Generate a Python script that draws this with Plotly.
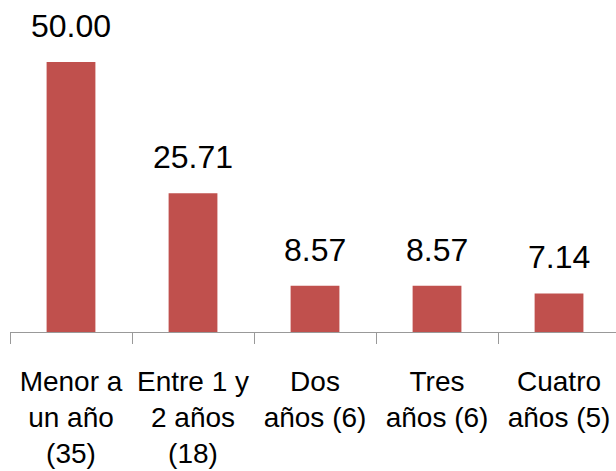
import plotly.graph_objects as go

categories = [
    "Menor a<br>un año<br>(35)",
    "Entre 1 y<br>2 años<br>(18)",
    "Dos<br>años (6)",
    "Tres<br>años (6)",
    "Cuatro<br>años (5)",
]
values = [50.00, 25.71, 8.57, 8.57, 7.14]
value_labels = ["50.00", "25.71", "8.57", "8.57", "7.14"]

BAR_COLOR = "#C0504D"
FONT = "Liberation Sans, Arial, sans-serif"

fig = go.Figure(
    go.Bar(
        x=categories,
        y=values,
        width=0.4,
        marker=dict(color=BAR_COLOR, line=dict(width=0)),
        hoverinfo="skip",
    )
)

# value labels sit well above the bars, like the original
for cat, val, lab in zip(categories, values, value_labels):
    fig.add_annotation(
        x=cat, y=val, text=lab,
        showarrow=False, yanchor="bottom", yshift=16,
        font=dict(family=FONT, size=32, color="#000000"),
    )

fig.update_layout(
    width=616,
    height=471,
    margin=dict(l=10, r=0, t=0, b=139),
    plot_bgcolor="white",
    paper_bgcolor="white",
    showlegend=False,
    bargap=0.6,
    font=dict(family=FONT, size=28, color="#000000"),
)

fig.update_xaxes(
    range=[-0.5, 4.467],
    automargin=False,
    tickangle=0,
    showline=True,
    linecolor="#999999",
    linewidth=1,
    ticks="outside",
    tickson="boundaries",
    ticklen=11,
    tickcolor="#999999",
    tickfont=dict(family=FONT, size=28, color="#000000"),
    ticklabelstandoff=24,
    showgrid=False,
)
fig.update_yaxes(
    range=[0, 61.48],
    automargin=False,
    visible=False,
    showgrid=False,
    zeroline=False,
)

# drop the default body margin so the figure fills the window exactly
fig.write_html(
    "out.html",
    config={"displayModeBar": False},
    post_script="document.body.style.margin='0';document.body.style.overflow='hidden';",
)
